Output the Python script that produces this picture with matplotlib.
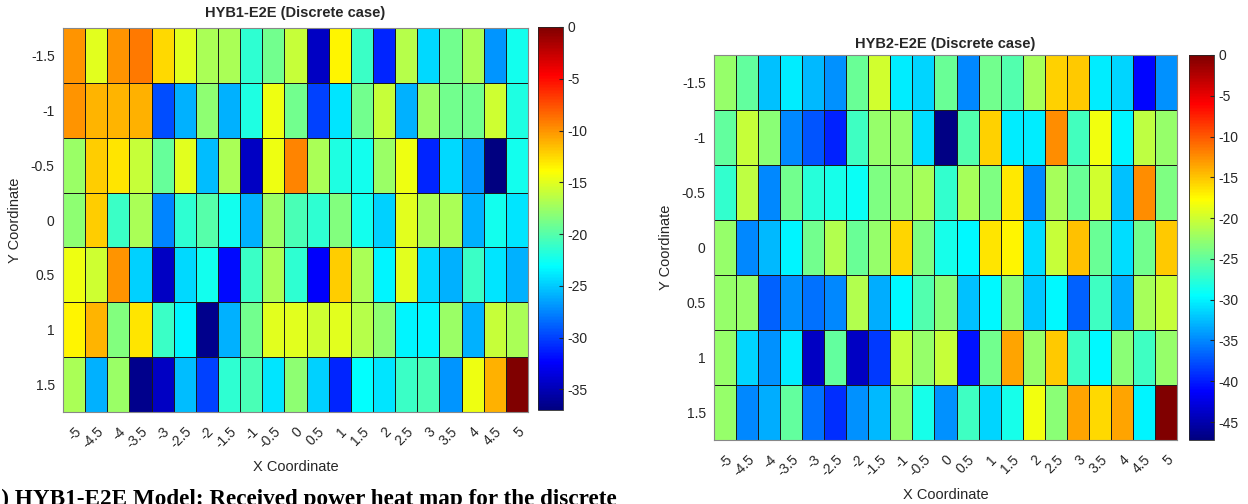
import numpy as np
import matplotlib.pyplot as plt
from matplotlib.colors import LinearSegmentedColormap

# grid coordinates
x_coords = [-5, -4.5, -4, -3.5, -3, -2.5, -2, -1.5, -1, -0.5, 0,
            0.5, 1, 1.5, 2, 2.5, 3, 3.5, 4, 4.5, 5]
y_coords = [-1.5, -1, -0.5, 0, 0.5, 1, 1.5]
x_labels = ['-5', '-4.5', '-4', '-3.5', '-3', '-2.5', '-2', '-1.5', '-1', '-0.5', '0',
            '0.5', '1', '1.5', '2', '2.5', '3', '3.5', '4', '4.5', '5']
y_labels = ['-1.5', '-1', '-0.5', '0', '0.5', '1', '1.5']

# received power (dB), one row per Y coordinate
hyb1 = [
    [-10, -15, -10, -9, -12.5, -15, -17, -17, -21.5, -19, -16, -34.5, -13.5, -21, -31, -16.5, -24.5, -19, -17, -27, -22.5],
    [-10, -11.25, -11.25, -11, -29.5, -26, -18, -26, -22, -14.5, -19, -30, -24, -19, -16, -26, -17.5, -19, -19, -15.75, -22],
    [-17.5, -12, -13, -16, -19.5, -15, -25.5, -17, -34.5, -14.5, -9.5, -17, -22, -22.5, -17.5, -14.5, -31, -24.5, -27, -37, -22.5],
    [-18, -12, -21, -17, -27.5, -21.5, -20, -22.5, -26, -17.5, -20.5, -21.5, -18.5, -22.5, -24.75, -15, -17, -17, -26, -22.5, -24],
    [-14.5, -15.75, -10, -24.75, -34.5, -24.5, -22.5, -32, -21, -17, -21.5, -32.5, -12, -17, -23.5, -15, -24.5, -26, -21, -24, -26],
    [-13.5, -11.25, -18.5, -13, -21, -23.5, -36.5, -26, -19, -15, -15, -15.75, -15, -16.5, -18, -23.5, -23.5, -17.5, -26, -16, -17],
    [-17, -26, -17.5, -36.5, -34.5, -25.5, -30, -21.5, -20.5, -24, -18, -24.75, -31, -23, -24, -21, -20.5, -27, -14.5, -11, 0],
]
hyb2 = [
    [-22.5, -25, -32.3, -30.3, -32.7, -34.5, -24.7, -19.8, -30.3, -31.5, -24.7, -35, -24.2, -25.8, -21.8, -15.5, -15.2, -30.3, -31.5, -41, -34.5],
    [-25, -20.3, -23.2, -35, -37.4, -39.8, -26.7, -22.5, -22.5, -31, -47, -25.8, -15.5, -30.3, -30.3, -12.5, -26.5, -18.3, -30, -20.8, -22.5],
    [-27.2, -20.8, -35, -24.2, -27.8, -28.5, -29, -23.75, -22.5, -21.8, -27.2, -21.8, -23.75, -16.7, -35, -21.8, -24.7, -19.8, -32.3, -12.5, -23.75],
    [-22.5, -35, -32.7, -30, -24.2, -21.3, -24.7, -22.5, -15.8, -23.75, -28.5, -29.7, -16.5, -17.3, -31, -20.3, -14.8, -24.7, -31, -24.2, -15.2],
    [-22.5, -22.5, -36.8, -34.5, -36, -35, -21.3, -33.3, -29.7, -25.8, -23.2, -32.3, -29.7, -23.2, -32, -29.7, -36.8, -26.7, -33.3, -21.8, -20.3],
    [-22.5, -31.5, -34.5, -30.3, -44, -25, -44, -38.6, -20.3, -22.5, -20.3, -40.5, -24.2, -13.6, -22.5, -15.2, -26.7, -29.7, -23.2, -26.7, -22.5],
    [-22.5, -35, -33.3, -25, -36, -39.2, -34.5, -32.7, -22.5, -28.5, -34.5, -26.7, -31.5, -28.5, -18.3, -23.2, -13.6, -16, -13.6, -30, 0],
]

# MATLAB style jet
jet = LinearSegmentedColormap.from_list(
    'mjet',
    [(0, (0, 0, 0.5)), (1 / 8, (0, 0, 1)), (3 / 8, (0, 1, 1)),
     (5 / 8, (1, 1, 0)), (7 / 8, (1, 0, 0)), (1, (0.5, 0, 0))], N=256)

plt.rcParams['font.family'] = ['Liberation Sans', 'DejaVu Sans']
plt.rcParams['axes.unicode_minus'] = False
txt = '#262626'

W, H = 1248, 504
fig = plt.figure(figsize=(W / 100, H / 100), dpi=100)


def px(x0, y0, x1, y1):
    return [x0 / W, 1 - y1 / H, (x1 - x0) / W, (y1 - y0) / H]


def panel(ax_box, cb_box, data, vmin, title, cticks, tpad):
    ax = fig.add_axes(px(*ax_box))
    cax = fig.add_axes(px(*cb_box))
    mesh = ax.pcolormesh(x_coords, y_coords, np.array(data), cmap=jet,
                         vmin=vmin, vmax=0, shading='nearest',
                         edgecolors='#1a1a1a', linewidth=0.7)
    ax.set_ylim(1.75, -1.75)
    ax.set_xticks(x_coords)
    ax.set_xticklabels(x_labels, rotation=45, ha='right', va='top',
                       rotation_mode='anchor')
    ax.set_yticks(y_coords)
    ax.set_yticklabels(y_labels)
    ax.tick_params(length=0, labelsize=10, labelcolor=txt, pad=9)
    ax.tick_params(axis='y', pad=6)
    for s in ax.spines.values():
        s.set_color('#888888')
        s.set_linewidth(0.8)
    ax.set_title(title, fontsize=10.5, fontweight='bold', color=txt, pad=tpad)
    ax.set_xlabel('X Coordinate', fontsize=10.5, color=txt, labelpad=6)
    ax.set_ylabel('Y Coordinate', fontsize=10.5, color=txt, labelpad=6)
    cb = fig.colorbar(mesh, cax=cax)
    cb.set_ticks(cticks)
    cb.ax.tick_params(labelsize=10, labelcolor=txt, direction='in',
                      length=3, color=txt)
    cb.outline.set_edgecolor(txt)
    cb.outline.set_linewidth(0.6)
    return ax


panel((63, 28, 528, 412), (538, 27, 563, 410), hyb1, -37,
      'HYB1-E2E (Discrete case)', [0, -5, -10, -15, -20, -25, -30, -35], 8)
panel((714, 55, 1177, 440), (1189, 55, 1214, 440), hyb2, -47.2,
      'HYB2-E2E (Discrete case)', [0, -5, -10, -15, -20, -25, -30, -35, -40, -45], 5)

# figure caption, cut by the page edge as in the source
fig.text(-18 / W, 1 - 489 / H,
         '(a) HYB1-E2E Model: Received power heat map for the discrete',
         fontsize=16.7, fontweight='bold', family='Liberation Serif',
         ha='left', va='top', color='black')

fig.savefig('out.png', dpi=100)
